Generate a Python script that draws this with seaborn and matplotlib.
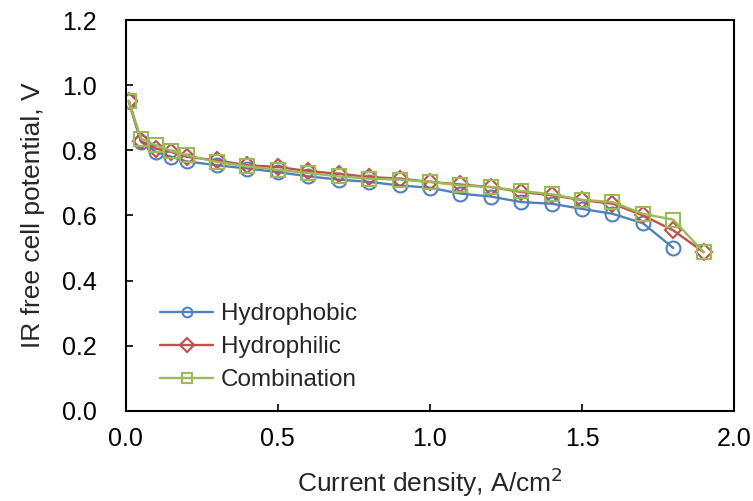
import pandas as pd
import matplotlib
matplotlib.use('Agg')
import matplotlib.pyplot as plt
import seaborn as sns

sns.set_style('white')
plt.rcParams['font.family'] = ['Liberation Sans', 'DejaVu Sans']

# Current density (A/cm2) and IR free cell potential (V)
current = [0.01, 0.05, 0.1, 0.15, 0.2, 0.3, 0.4, 0.5, 0.6, 0.7, 0.8, 0.9, 1.0,
           1.1, 1.2, 1.3, 1.4, 1.5, 1.6, 1.7, 1.8, 1.9]
hydrophobic = [0.950, 0.826, 0.795, 0.780, 0.766, 0.754, 0.744, 0.733, 0.720, 0.710,
               0.703, 0.692, 0.685, 0.667, 0.658, 0.641, 0.636, 0.620, 0.605, 0.576,
               0.500]
hydrophilic = [0.952, 0.828, 0.805, 0.795, 0.780, 0.769, 0.754, 0.749, 0.736, 0.728,
               0.718, 0.713, 0.703, 0.695, 0.687, 0.672, 0.662, 0.647, 0.636, 0.600,
               0.554, 0.487]
combination = [0.952, 0.836, 0.815, 0.798, 0.785, 0.764, 0.751, 0.740, 0.730, 0.720,
               0.713, 0.710, 0.703, 0.692, 0.687, 0.675, 0.665, 0.648, 0.641, 0.605,
               0.587, 0.487]

series = {
    'Hydrophobic': (hydrophobic, '#4F81BD', 'o'),
    'Hydrophilic': (hydrophilic, '#C0504D', 'D'),
    'Combination': (combination, '#9BBB59', 's'),
}

fig = plt.figure(figsize=(7.53, 5.01), dpi=100)
ax = fig.add_axes([0.167, 0.180, 0.808, 0.780])

for name, (vals, col, mk) in series.items():
    df = pd.DataFrame({'x': current[:len(vals)], 'y': vals})
    sns.lineplot(data=df, x='x', y='y', ax=ax, color=col, marker=mk,
                 markersize=10 if mk != 'D' else 8, markerfacecolor='none',
                 markeredgecolor=col, markeredgewidth=1.5, linewidth=1.7,
                 label=name, sort=False)

ax.set_xlim(0, 2.0)
ax.set_ylim(0, 1.2)
ax.set_xticks([0.0, 0.5, 1.0, 1.5, 2.0])
ax.set_yticks([0.0, 0.2, 0.4, 0.6, 0.8, 1.0, 1.2])
ax.set_xticklabels(['0.0', '0.5', '1.0', '1.5', '2.0'])
ax.set_yticklabels(['0.0', '0.2', '0.4', '0.6', '0.8', '1.0', '1.2'])
ax.tick_params(direction='in', length=5, width=1.2, labelsize=18,
               colors='black', left=True, bottom=True)
ax.tick_params(axis='y', pad=21)
ax.tick_params(axis='x', pad=12)
for s in ax.spines.values():
    s.set_visible(True)
    s.set_color('black')
    s.set_linewidth(1.5)

ax.set_xlabel('Current density, A/cm$^2$', fontsize=19, labelpad=10)
ax.set_ylabel('IR free cell potential, V', fontsize=19, labelpad=12)

leg = ax.legend(loc='lower left', bbox_to_anchor=(0.02, -0.006), frameon=False,
                fontsize=17.5, handlelength=2.2, labelspacing=0.45, handletextpad=0.3)
for h in leg.legend_handles:
    h.set_markersize(7)

fig.savefig('out.png', dpi=100)
